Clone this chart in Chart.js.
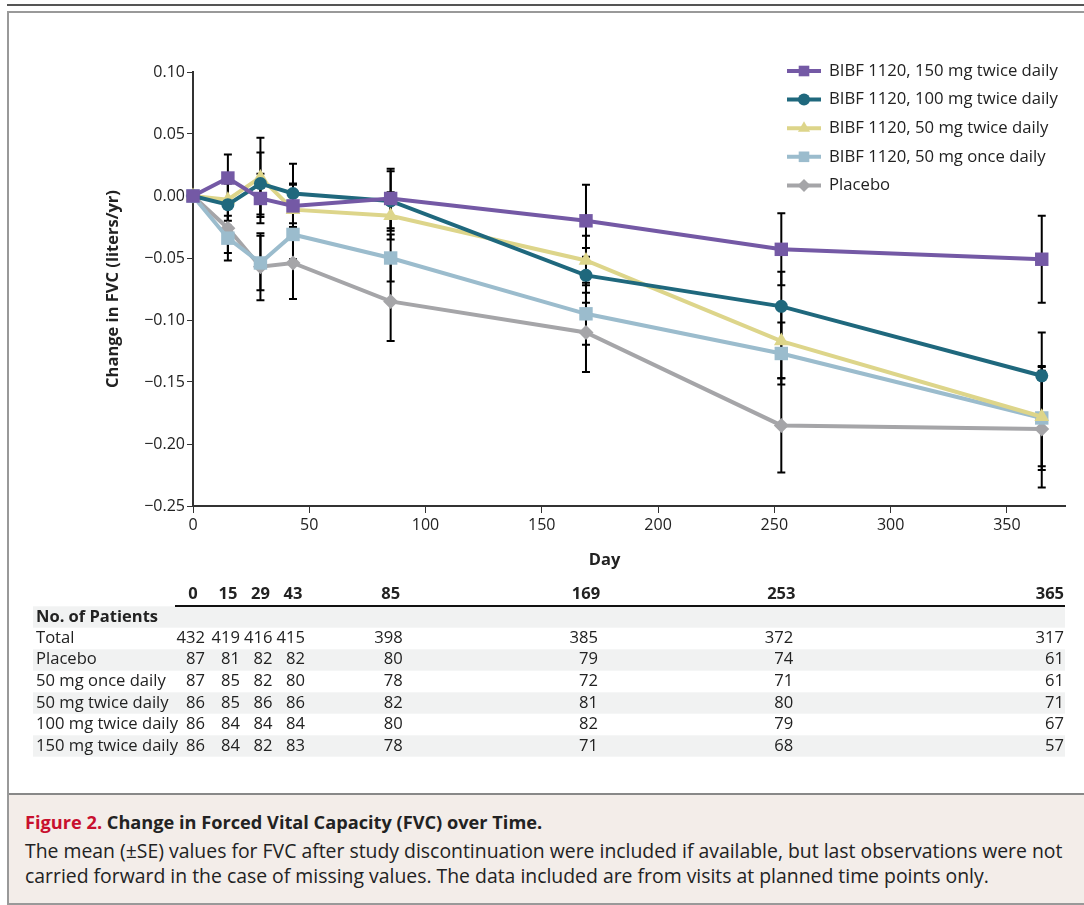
<!DOCTYPE html>
<html lang="en">
<head>
    <meta charset="UTF-8">
    <title>Change in Forced Vital Capacity (FVC) over Time</title>
    <style>
        body {
            margin: 0;
            width: 1084px;
            height: 905px;
            background: white;
            overflow: hidden;
            position: relative;
            font-family: 'Open Sans', sans-serif;
        }
        .topline {
            position: absolute;
            left: 7px; top: 4px;
            width: 1090px; height: 2px;
            background: #555;
        }
        .frame {
            position: absolute;
            left: 7px; top: 11px;
            width: 1090px; height: 890px;
            border: 2px solid #999;
        }
        .chartbox {
            position: absolute;
            left: 0; top: 0;
            width: 1084px; height: 790px;
        }
        .caption {
            position: absolute;
            left: 9px; top: 793px;
            width: 1090px; height: 108px;
            border-top: 2px solid #888;
            background: #f3ede9;
            font-family: 'Open Sans', sans-serif;
            color: #222;
            white-space: nowrap;
        }
        .caption .title {
            position: absolute; left: 16px; top: 15px;
            font-size: 18.2px; font-weight: bold;
        }
        .caption .title span { color: #c8102e; }
        .caption .body {
            position: absolute; left: 16px; top: 43px;
            font-size: 19.4px; line-height: 25px;
        }
    </style>
</head>
<body>
    <div class="topline"></div>
    <div class="frame"></div>
    <div class="chartbox"><canvas id="fvcChart"></canvas></div>
    <div class="caption">
        <div class="title"><span>Figure 2.</span> Change in Forced Vital Capacity (FVC) over Time.</div>
        <div class="body">The mean (±SE) values for FVC after study discontinuation were included if available, but last observations were not<br>carried forward in the case of missing values. The data included are from visits at planned time points only.</div>
    </div>

    <script src="https://cdn.jsdelivr.net/npm/chart.js"></script>
    <script>
        // visit days
        const days = [0, 15, 29, 43, 85, 169, 253, 365];

        const seriesLabels = [
            'BIBF 1120, 150 mg twice daily',
            'BIBF 1120, 100 mg twice daily',
            'BIBF 1120, 50 mg twice daily',
            'BIBF 1120, 50 mg once daily',
            'Placebo'
        ];

        // mean change in FVC (liters) and SE
        const fvc150 = [0, 0.0145, -0.002, -0.008, -0.002, -0.020, -0.043, -0.051];
        const se150 = [0, 0.019, 0.020, 0.018, 0.024, 0.029, 0.029, 0.035];
        const fvc100 = [0, -0.007, 0.010, 0.002, -0.004, -0.064, -0.089, -0.145];
        const se100 = [0, 0.017, 0.025, 0.024, 0.024, 0.022, 0.028, 0.035];
        const fvc50bid = [0, -0.003, 0.015, -0.011, -0.016, -0.052, -0.117, -0.178];
        const se50bid = [0, 0.017, 0.032, 0.020, 0.019, 0.020, 0.030, 0.040];
        const fvc50qd = [0, -0.034, -0.054, -0.031, -0.050, -0.095, -0.127, -0.179];
        const se50qd = [0, 0.018, 0.022, 0.020, 0.019, 0.025, 0.025, 0.042];
        const fvcPlacebo = [0, -0.026, -0.057, -0.054, -0.085, -0.110, -0.185, -0.188];
        const sePlacebo = [0, 0.020, 0.027, 0.029, 0.032, 0.032, 0.038, 0.047];

        // number of patients table
        const rowLabels = ['Total', 'Placebo', '50 mg once daily', '50 mg twice daily', '100 mg twice daily', '150 mg twice daily'];
        const nTotal = [432, 419, 416, 415, 398, 385, 372, 317];
        const nPlacebo = [87, 81, 82, 82, 80, 79, 74, 61];
        const n50qd = [87, 85, 82, 80, 78, 72, 71, 61];
        const n50bid = [86, 85, 86, 86, 82, 81, 80, 71];
        const n100 = [86, 84, 84, 84, 80, 82, 79, 67];
        const n150 = [86, 84, 82, 83, 78, 71, 68, 57];

        const yTicks = [-0.25, -0.20, -0.15, -0.10, -0.05, 0, 0.05, 0.10];
        const xTicks = [0, 50, 100, 150, 200, 250, 300, 350];

        const colors = ['#7459a5', '#1f687d', '#ddd58a', '#9bbccd', '#a5a5a8'];
        const pointStyles = ['rect', 'circle', 'triangle', 'rect', 'rectRot'];
        const pointSizes = [9.5, 6.5, 8.5, 9.5, 7.5];
        const legendSizes = [7.5, 6, 7, 7.5, 6.5];
        const allMeans = [fvc150, fvc100, fvc50bid, fvc50qd, fvcPlacebo];
        const allSE = [se150, se100, se50bid, se50qd, sePlacebo];
        const tableRows = [nTotal, nPlacebo, n50qd, n50bid, n100, n150];

        const FONT = "'Open Sans', sans-serif";
        Chart.defaults.font.family = FONT;
        Chart.defaults.font.size = 16;
        Chart.defaults.color = '#222';

        function minusFmt(v) {
            const s = Math.abs(v).toFixed(2);
            return v < -1e-9 ? '\u2212' + s : s;
        }

        // error bars (mean ± SE), drawn under the markers
        const errorBars = {
            id: 'errorBars',
            beforeDatasetsDraw(chart) {
                const ctx = chart.ctx, xs = chart.scales.x, ys = chart.scales.y;
                ctx.save();
                ctx.strokeStyle = '#000';
                ctx.lineWidth = 2;
                chart.data.datasets.forEach((ds) => {
                    ds.data.forEach((p, i) => {
                        const se = ds.se[i];
                        if (!se) return;
                        const x = xs.getPixelForValue(p.x);
                        const y1 = ys.getPixelForValue(p.y + se);
                        const y2 = ys.getPixelForValue(p.y - se);
                        ctx.beginPath();
                        ctx.moveTo(x, y1); ctx.lineTo(x, y2);
                        ctx.moveTo(x - 4, y1); ctx.lineTo(x + 4, y1);
                        ctx.moveTo(x - 4, y2); ctx.lineTo(x + 4, y2);
                        ctx.stroke();
                    });
                });
                ctx.restore();
            }
        };

        // legend in the upper right, line + marker
        const lineLegend = {
            id: 'lineLegend',
            afterDraw(chart) {
                const ctx = chart.ctx;
                ctx.save();
                ctx.font = '16.7px ' + FONT;
                ctx.textBaseline = 'middle';
                chart.data.datasets.forEach((ds, i) => {
                    const y = 71 + i * 28.6;
                    ctx.strokeStyle = ds.borderColor;
                    ctx.lineWidth = 4;
                    ctx.beginPath();
                    ctx.moveTo(787, y); ctx.lineTo(821, y);
                    ctx.stroke();
                    ctx.fillStyle = ds.borderColor;
                    Chart.helpers.drawPoint(ctx, {pointStyle: ds.pointStyle, radius: legendSizes[i], borderWidth: 0, rotation: 0}, 804, y);
                    ctx.fillStyle = '#222';
                    ctx.fillText(ds.label, 829, y);
                });
                ctx.restore();
            }
        };

        // x title and patient numbers table, columns follow the x scale
        const patientTable = {
            id: 'patientTable',
            afterDraw(chart) {
                const ctx = chart.ctx, xs = chart.scales.x;
                const left = 33, right = chart.chartArea.right;
                ctx.save();
                ctx.fillStyle = '#222';
                ctx.textBaseline = 'middle';
                ctx.textAlign = 'center';
                ctx.font = 'bold 16.5px ' + FONT;
                ctx.fillText('Day', xs.getPixelForValue(177), 560);
                // stripes
                ctx.fillStyle = '#f1f2f2';
                [617, 660, 703, 746].forEach(yc => ctx.fillRect(left, yc - 10.7, right - left, 21.4));
                // header rule
                ctx.fillStyle = '#111';
                ctx.fillRect(175, 605, right - 175, 2);
                ctx.fillStyle = '#222';
                // header days
                days.forEach((d, i) => {
                    const last = i === days.length - 1;
                    ctx.textAlign = last ? 'right' : 'center';
                    ctx.fillText(String(d), last ? right - 1 : xs.getPixelForValue(d), 594);
                });
                ctx.textAlign = 'left';
                ctx.fillText('No. of Patients', 36, 617);
                ctx.font = '16.6px ' + FONT;
                tableRows.forEach((row, r) => {
                    const y = 638 + r * 21.6;
                    ctx.textAlign = 'left';
                    ctx.fillText(rowLabels[r], 36, y);
                    ctx.textAlign = 'right';
                    row.forEach((n, i) => {
                        const last = i === days.length - 1;
                        ctx.fillText(String(n), last ? right - 1 : xs.getPixelForValue(days[i]) + 12, y);
                    });
                });
                ctx.restore();
            }
        };

        const datasets = seriesLabels.map((label, i) => ({
            label: label,
            data: days.map((d, k) => ({x: d, y: allMeans[i][k]})),
            se: allSE[i],
            borderColor: colors[i],
            backgroundColor: colors[i],
            borderWidth: 4,
            pointStyle: pointStyles[i],
            pointRadius: pointSizes[i],
            pointBorderWidth: 0,
            tension: 0,
            clip: false
        }));

        new Chart(document.getElementById('fvcChart'), {
            type: 'line',
            data: { datasets: datasets },
            options: {
                responsive: true,
                maintainAspectRatio: false,
                animation: false,
                layout: { padding: { left: 99, top: 72, right: 19, bottom: 216 } },
                plugins: {
                    legend: { display: false },
                    tooltip: { enabled: false }
                },
                scales: {
                    x: {
                        type: 'linear',
                        min: 0,
                        max: 375,
                        afterBuildTicks: s => { s.ticks = xTicks.map(v => ({value: v})); },
                        afterFit: s => { s.height = 68; },
                        ticks: { padding: 3, color: '#222', font: { size: 16 } },
                        grid: { drawOnChartArea: false, drawTicks: true, tickLength: 7, color: '#333', lineWidth: 1 },
                        border: { color: '#333', width: 2 }
                    },
                    y: {
                        min: -0.25,
                        max: 0.10,
                        afterBuildTicks: s => { s.ticks = yTicks.map(v => ({value: v})); },
                        afterFit: s => { s.width = 94; },
                        ticks: { padding: 2, color: '#222', font: { size: 16 }, callback: v => minusFmt(v) },
                        grid: { drawOnChartArea: false, drawTicks: true, tickLength: 6, color: '#333', lineWidth: 1 },
                        border: { color: '#333', width: 2 },
                        title: { display: true, text: 'Change in FVC (liters/yr)', font: { size: 16.5, weight: 'bold' }, color: '#222', padding: { top: 4, bottom: 4 } }
                    }
                }
            },
            plugins: [errorBars, lineLegend, patientTable]
        });
    </script>
</body>
</html>
